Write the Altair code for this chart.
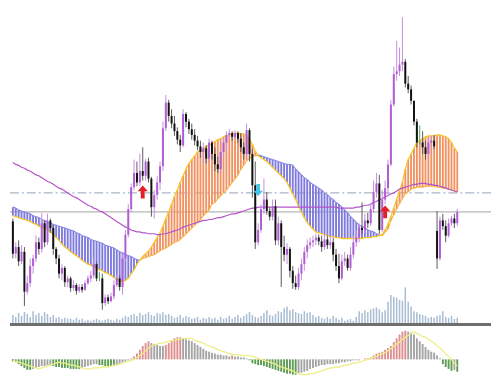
import altair as alt
import pandas as pd

# ---------------- data (price in points, one entry per bar) ----------------
closes = [76, 83, 68, 78, 36, 45, 63, 71, 88, 81,
          108, 88, 111, 103, 81, 71, 55, 61, 46, 50,
          40, 43, 37, 41, 38, 45, 50, 53, 65, 50,
          50, 24, 30, 26, 31, 43, 50, 41, 71, 96,
          123, 146, 161, 151, 163, 158, 173, 155, 125, 138,
          151, 168, 208, 235, 221, 213, 205, 196, 190, 223,
          215, 207, 201, 195, 189, 183, 187, 176, 193, 181,
          170, 165, 183, 193, 201, 203, 199, 203, 197, 188,
          181, 206, 181, 148, 88, 101, 123, 133, 121, 115,
          126, 90, 108, 83, 75, 81, 58, 45, 41, 55,
          65, 78, 85, 88, 90, 93, 89, 83, 91, 85,
          88, 75, 63, 50, 68, 71, 61, 75, 88, 93,
          103, 101, 111, 108, 123, 141, 150, 101, 133, 145,
          170, 233, 265, 268, 275, 278, 255, 249, 237, 215,
          193, 193, 188, 181, 193, 195, 189, 71, 111, 105,
          95, 108, 113, 108, 120]

highs = [113, 88, 90, 85, 83, 53, 71, 75, 95, 93,
         119, 111, 118, 113, 106, 83, 75, 65, 63, 53,
         52, 48, 45, 44, 44, 48, 53, 58, 71, 68,
         57, 55, 33, 33, 35, 48, 55, 53, 75, 101,
         128, 150, 175, 173, 181, 188, 176, 177, 157, 143,
         158, 173, 215, 243, 238, 228, 221, 209, 201, 228,
         225, 218, 213, 207, 200, 195, 193, 190, 197, 195,
         188, 178, 187, 198, 205, 207, 205, 206, 205, 203,
         193, 213, 208, 186, 173, 108, 128, 155, 141, 125,
         133, 133, 115, 111, 95, 87, 83, 63, 53, 61,
         71, 83, 91, 93, 95, 97, 96, 95, 97, 95,
         95, 93, 81, 76, 75, 78, 75, 83, 95, 101,
         108, 130, 118, 119, 129, 153, 161, 159, 143, 153,
         175, 238, 273, 300, 293, 325, 281, 263, 253, 237,
         218, 211, 205, 195, 198, 200, 201, 121, 115, 118,
         111, 113, 116, 118, 123]

lows = [71, 71, 63, 65, 21, 33, 41, 55, 67, 75,
        77, 83, 85, 98, 75, 65, 50, 48, 41, 41,
        36, 37, 33, 35, 35, 37, 43, 46, 50, 47,
        47, 17, 21, 23, 25, 28, 41, 37, 33, 68,
        93, 120, 143, 147, 147, 153, 153, 151, 115, 113,
        133, 143, 163, 205, 215, 208, 200, 191, 183, 188,
        209, 202, 196, 190, 185, 177, 171, 171, 173, 175,
        163, 161, 161, 178, 185, 197, 195, 196, 193, 183,
        175, 178, 173, 135, 81, 85, 98, 118, 117, 111,
        111, 85, 85, 41, 68, 65, 51, 39, 38, 38,
        48, 58, 71, 81, 83, 85, 85, 78, 80, 81,
        81, 68, 58, 45, 48, 63, 58, 58, 71, 83,
        88, 97, 97, 103, 105, 119, 135, 97, 99, 128,
        138, 168, 231, 258, 263, 268, 251, 245, 233, 211,
        188, 191, 181, 175, 178, 188, 186, 60, 69, 101,
        88, 93, 105, 103, 105]

FIRST_OPEN = 110
GAP_BAR = 147
GAP_OPEN = 100

span_a = [116, 115, 114, 113, 112, 111, 110, 108, 107, 105,
          104, 103, 101, 99, 96, 93, 90, 86, 83, 81,
          78, 76, 74, 72, 69, 67, 65, 64, 62, 61,
          59, 58, 56, 55, 53, 51, 49, 47, 47, 48,
          50, 55, 59, 65, 69, 73, 76, 79, 83, 88,
          93, 98, 105, 113, 120, 128, 136, 143, 151, 158,
          165, 171, 175, 179, 183, 185, 187, 189, 190, 192,
          194, 196, 197, 199, 200, 201, 202, 203, 203, 202,
          202, 200, 196, 191, 184, 179, 177, 175, 173, 170,
          167, 164, 161, 158, 155, 151, 145, 139, 133, 126,
          120, 114, 109, 105, 102, 99, 98, 97, 96, 95,
          94, 94, 93, 93, 92, 92, 92, 92, 92, 92,
          92, 92, 93, 93, 93, 94, 94, 95, 96, 101,
          107, 115, 124, 133, 142, 151, 165, 175, 181, 187,
          193, 195, 197, 199, 200, 200, 200, 201, 201, 200,
          199, 197, 193, 187, 183]

span_b = [125, 124, 122, 121, 120, 119, 118, 116, 115, 114,
          112, 111, 109, 108, 107, 106, 105, 104, 103, 102,
          101, 100, 98, 97, 95, 94, 93, 91, 90, 89,
          88, 87, 85, 84, 83, 82, 80, 78, 77, 75,
          74, 73, 71, 70, 69, 71, 72, 73, 74, 75,
          77, 79, 81, 82, 84, 86, 88, 89, 91, 94,
          97, 100, 103, 106, 109, 112, 116, 119, 122, 128,
          130, 134, 137, 140, 143, 147, 151, 155, 159, 165,
          169, 174, 176, 178, 179, 180, 179, 178, 177, 176,
          175, 174, 173, 172, 171, 170, 170, 169, 165, 162,
          159, 156, 154, 151, 149, 147, 145, 143, 140, 138,
          135, 133, 130, 128, 125, 122, 119, 115, 112, 109,
          106, 105, 103, 101, 100, 99, 97, 96, 95, 99,
          102, 111, 117, 123, 129, 134, 139, 141, 144, 145,
          146, 146, 146, 147, 147, 147, 147, 146, 146, 145,
          145, 144, 143, 142, 141]

ma = [172, 170, 169, 167, 166, 164, 163, 161, 159, 158,
      156, 154, 152, 151, 149, 147, 145, 144, 142, 140,
      138, 136, 135, 133, 131, 129, 127, 126, 124, 123,
      121, 120, 118, 116, 114, 112, 110, 108, 106, 104,
      103, 101, 100, 99, 99, 98, 98, 97, 97, 97,
      96, 96, 97, 97, 98, 99, 100, 101, 102, 104,
      105, 106, 107, 108, 109, 110, 111, 111, 112, 112,
      113, 114, 114, 115, 116, 117, 118, 118, 119, 120,
      121, 122, 123, 124, 124, 125, 125, 125, 125, 125,
      125, 125, 125, 125, 125, 125, 125, 125, 125, 125,
      125, 125, 125, 125, 125, 125, 125, 125, 125, 125,
      125, 125, 125, 124, 124, 124, 124, 124, 124, 125,
      125, 126, 127, 127, 128, 130, 131, 133, 134, 136,
      137, 139, 140, 142, 144, 145, 146, 147, 148, 149,
      149, 150, 150, 150, 149, 149, 148, 148, 147, 146,
      145, 144, 143, 142, 141]

volume = [9, 7, 11, 8, 12, 10, 7, 13, 9, 11,
          8, 12, 10, 7, 9, 6, 7, 5, 6, 5,
          5, 4, 6, 4, 5, 3, 4, 3, 4, 5,
          4, 3, 4, 5, 4, 3, 5, 4, 6, 8,
          7, 9, 10, 8, 11, 9, 10, 12, 9, 8,
          11, 10, 12, 9, 10, 8, 6, 7, 9, 6,
          8, 7, 5, 6, 7, 4, 6, 5, 7, 5,
          6, 4, 7, 5, 6, 8, 5, 7, 9, 6,
          8, 10, 12, 9, 7, 6, 8, 11, 14, 9,
          8, 10, 13, 12, 16, 18, 14, 15, 12, 11,
          10, 13, 11, 12, 9, 7, 8, 6, 5, 7,
          5, 8, 6, 4, 6, 3, 4, 5, 3, 7,
          13, 11, 14, 12, 15, 16, 17, 15, 12, 14,
          23, 30, 28, 27, 25, 24, 38, 23, 18, 13,
          12, 10, 9, 8, 6, 7, 6, 8, 9, 13,
          7, 6, 8, 5, 6]

macd = [-2, -3, -5, -7, -9, -11, -11, -10, -9, -8,
        -7, -7, -6, -6, -7, -8, -8, -9, -9, -9,
        -10, -10, -10, -10, -9, -8, -7, -6, -5, -5,
        -6, -6, -7, -7, -7, -7, -6, -5, -3, -2,
        -1, 1, 3, 6, 10, 14, 17, 19, 17, 16,
        15, 14, 14, 15, 17, 20, 22, 23, 23, 22,
        21, 20, 19, 17, 15, 13, 11, 9, 8, 7,
        6, 5, 5, 4, 4, 3, 4, 3, 3, 2,
        2, 1, -1, -4, -5, -6, -6, -7, -8, -9,
        -10, -11, -12, -13, -14, -15, -15, -16, -16, -15,
        -14, -13, -12, -10, -9, -8, -7, -6, -6, -5,
        -5, -5, -4, -4, -3, -3, -2, -2, -1, -1,
        -1, 0, 1, 1, 2, 4, 6, 7, 8, 10,
        12, 14, 18, 22, 26, 29, 30, 29, 28, 26,
        22, 19, 16, 13, 10, 8, 7, 4, 1, -5,
        -8, -10, -12, -11, -13]

signal = [-1, -2, -3, -4, -5, -6, -7, -8, -9, -10,
          -9, -8, -7, -6, -5, -4, -3, -4, -4, -5,
          -6, -6, -7, -8, -9, -10, -10, -10, -9, -9,
          -9, -8, -8, -8, -7, -6, -6, -5, -4, -3,
          -2, -1, 0, 2, 4, 6, 9, 12, 14, 15,
          16, 17, 17, 18, 19, 19, 20, 21, 21, 22,
          22, 22, 22, 20, 19, 18, 17, 15, 14, 13,
          12, 10, 9, 8, 7, 6, 5, 5, 5, 4,
          4, 4, 4, 3, 2, 1, 0, -1, -2, -3,
          -4, -5, -7, -8, -9, -10, -11, -12, -14, -15,
          -16, -16, -16, -15, -15, -14, -13, -12, -11, -10,
          -9, -9, -8, -8, -7, -6, -6, -5, -4, -4,
          -3, -2, -1, 0, 1, 2, 3, 5, 6, 7,
          9, 11, 14, 16, 18, 21, 23, 25, 27, 29,
          27, 26, 24, 23, 21, 19, 17, 14, 12, 9,
          6, 3, 0, -4, -7]

arrow_bar = [45, 129, 85]
arrow_price = [141, 120, 143]
arrow_dir = ["up", "up", "down"]

LEVEL_SOLID = 120
LEVEL_DASHDOT = 140
SEPARATOR_LEVEL = 1.5

# ---------------- layout / style ----------------
W = 485
H_TOP = 319
H_BOT = 51
X_DOMAIN = [-1, 165.7]
PRICE_DOMAIN = [0, 333]
VOL_DOMAIN = [-2.5, 330.5]
MACD_DOMAIN = [-19, 34]

ORANGE = "#f19262"
BLUE = "#7d79dd"
SPAN_A_COL = "#f6c52a"
BULL = "#b05cd4"
BULL_WICK = "#c48fe0"
BEAR = "#111111"
BEAR_WICK = "#5a5a5a"
DOJI = "#4caf50"

# ---------------- frames ----------------
n = len(closes)
opens = [FIRST_OPEN] + closes[:-1]
opens[GAP_BAR] = GAP_OPEN

df = pd.DataFrame(dict(i=list(range(n)), o=opens, h=highs, l=lows, c=closes,
                       a=span_a, b=span_b, ma=ma, vol=volume,
                       macd=macd, sig=signal))
df["dir"] = ["doji" if c == o else ("bull" if c > o else "bear")
             for o, c in zip(opens, closes)]
df["cloud"] = ["up" if a >= b else "down" for a, b in zip(span_a, span_b)]
df["i_next"] = df["i"] + 1
df["b_next"] = df["b"].shift(-1)
df["a_next"] = df["a"].shift(-1)
seg = df.dropna(subset=["b_next"]).copy()
seg["edge"] = ["up" if (a + an) >= (b + bn) else "down"
               for a, an, b, bn in zip(seg["a"], seg["a_next"], seg["b"], seg["b_next"])]

hist_col = []
prev_v, prev_c = 0, "gray"
for v in macd:
    if v == prev_v:
        col = prev_c
    elif v > prev_v and v > 0:
        col = "red"
    elif v < prev_v and v < 0:
        col = "green"
    else:
        col = "gray"
    hist_col.append(col)
    prev_v, prev_c = v, col
df["hcol"] = hist_col

arrows = pd.DataFrame(dict(i=arrow_bar, p=arrow_price, d=arrow_dir))
solid = pd.DataFrame(dict(level=[LEVEL_SOLID]))
dashdot = pd.DataFrame(dict(level=[LEVEL_DASHDOT]))
sep = pd.DataFrame(dict(level=[SEPARATOR_LEVEL]))

xs = alt.Scale(domain=X_DOMAIN, nice=False, zero=False, padding=0)
ps = alt.Scale(domain=PRICE_DOMAIN, nice=False, zero=False, padding=0)


def X(f="i"):
    return alt.X(f"{f}:Q", scale=xs, axis=None)


def P(f):
    return alt.Y(f"{f}:Q", scale=ps, axis=None)


base = alt.Chart(df)

l_solid = alt.Chart(solid).mark_rule(color="#a3a3a3", strokeWidth=1).encode(y=P("level"))
l_dash = alt.Chart(dashdot).mark_rule(color="#a9b6c6", strokeWidth=1.2,
                                      strokeDash=[9, 3, 2, 3]).encode(y=P("level"))
l_sep = alt.Chart(sep).mark_rule(color="#6e6e6e", strokeWidth=3).encode(y=P("level"))

cloud = base.mark_bar(size=1.9).encode(
    x=X(), y=P("a"), y2="b",
    color=alt.Color("cloud:N", scale=alt.Scale(domain=["up", "down"], range=[ORANGE, BLUE]),
                    legend=None))

line_a = base.mark_line(color=SPAN_A_COL, strokeWidth=1.3).encode(x=X(), y=P("a"))
line_b = alt.Chart(seg).mark_rule(strokeWidth=1.1).encode(
    x=X(), x2="i_next", y=P("b"), y2="b_next",
    color=alt.Color("edge:N", scale=alt.Scale(domain=["up", "down"], range=["#f5b23a", "#8a86e2"]),
                    legend=None))

ma_line = base.mark_line(color="#b655c9", strokeWidth=1.2).encode(x=X(), y=P("ma"))

vol = base.mark_bar(size=1.5, color="#a8bcd2").encode(
    x=X(),
    y=alt.Y("vol:Q", scale=alt.Scale(domain=VOL_DOMAIN, nice=False, zero=False, padding=0),
            axis=None),
    y2=alt.datum(0))

wick = base.mark_rule(strokeWidth=1).encode(
    x=X(), y=P("l"), y2="h",
    color=alt.Color("dir:N", scale=alt.Scale(domain=["bull", "bear", "doji"],
                                             range=[BULL_WICK, BEAR_WICK, DOJI]), legend=None))
body = base.mark_bar(size=2).encode(
    x=X(), y=P("o"), y2="c",
    color=alt.Color("dir:N", scale=alt.Scale(domain=["bull", "bear", "doji"],
                                             range=[BULL, BEAR, DOJI]), legend=None))

UP_PATH = "M0,-1L0.8,-0.1L0.3,-0.1L0.3,1L-0.3,1L-0.3,-0.1L-0.8,-0.1Z"
DOWN_PATH = "M0,1L0.8,0.1L0.3,0.1L0.3,-1L-0.3,-1L-0.3,0.1L-0.8,0.1Z"
arr_up = alt.Chart(arrows).transform_filter(alt.datum.d == "up").mark_point(
    shape=UP_PATH, filled=True, size=170, color="#e3202a", opacity=1, strokeWidth=0
).encode(x=X(), y=P("p"))
arr_dn = alt.Chart(arrows).transform_filter(alt.datum.d == "down").mark_point(
    shape=DOWN_PATH, filled=True, size=150, color="#3fc6e6", opacity=1, strokeWidth=0
).encode(x=X(), y=P("p"))

top = alt.layer(l_solid, l_dash, cloud, line_b, line_a, ma_line, vol, wick, body,
                arr_up, arr_dn, l_sep).resolve_scale(
    y="independent", color="independent").properties(width=W, height=H_TOP)

ms = alt.Scale(domain=MACD_DOMAIN, nice=False, zero=False, padding=0)
hist = base.mark_bar(size=1.9).encode(
    x=X(), y=alt.Y("macd:Q", scale=ms, axis=None), y2=alt.datum(0),
    color=alt.Color("hcol:N", scale=alt.Scale(domain=["red", "gray", "green"],
                                              range=["#df8e8e", "#a4a4a4", "#5c9a52"]),
                    legend=None))
sig_line = base.mark_line(color="#eeee84", strokeWidth=1.3).encode(
    x=X(), y=alt.Y("sig:Q", scale=ms, axis=None))
bottom = alt.layer(hist, sig_line).properties(width=W, height=H_BOT)

chart = alt.vconcat(top, bottom, spacing=0).properties(
    padding=0, background="white").configure_view(strokeWidth=0)

chart.save("out.html", embed_options={"renderer": "svg", "actions": False})
